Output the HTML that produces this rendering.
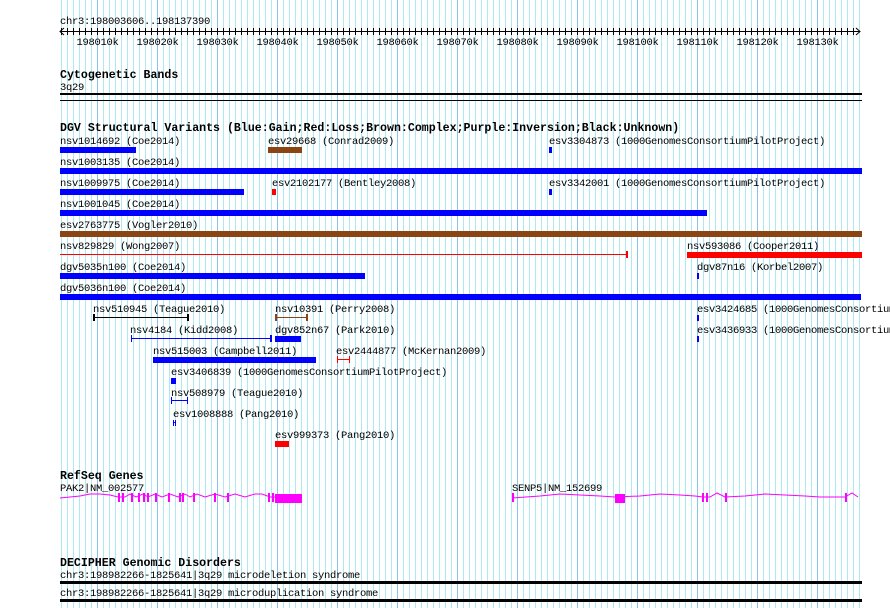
<!DOCTYPE html>
<html><head><meta charset="utf-8"><style>
html,body{margin:0;padding:0;background:#fff;width:890px;height:608px;overflow:hidden;position:relative}
.lg{position:absolute;left:61px;top:0;width:799px;height:608px;background:repeating-linear-gradient(to right,#aee8f0 0,#aee8f0 1px,transparent 1px,transparent 6px)}
.dg{position:absolute;left:97px;top:0;width:722px;height:608px;background:repeating-linear-gradient(to right,#88c4ec 0,#88c4ec 1px,transparent 1px,transparent 60px)}
svg{position:absolute;left:0;top:0}
text{font-family:"Liberation Mono",monospace;font-size:10.5px;letter-spacing:-0.3px;fill:#000}
.b{font-weight:bold;font-size:11.6px;letter-spacing:0}
</style></head><body>
<div class="lg"></div><div class="dg"></div>
<svg width="890" height="608" xmlns="http://www.w3.org/2000/svg">
<defs>
<pattern id="tk" patternUnits="userSpaceOnUse" x="61" y="28" width="6" height="7"><rect x="0" y="0" width="1" height="7" fill="#000"/></pattern>
</defs>
<rect x="60" y="31" width="800" height="1" fill="#000"/>
<rect x="61" y="28" width="798" height="7" fill="url(#tk)"/>
<g text-anchor="middle">
<text x="97.5" y="45">198010k</text><text x="157.5" y="45">198020k</text><text x="217.5" y="45">198030k</text><text x="277.5" y="45">198040k</text><text x="337.5" y="45">198050k</text><text x="397.5" y="45">198060k</text><text x="457.5" y="45">198070k</text><text x="517.5" y="45">198080k</text><text x="577.5" y="45">198090k</text><text x="637.5" y="45">198100k</text><text x="697.5" y="45">198110k</text><text x="757.5" y="45">198120k</text><text x="817.5" y="45">198130k</text>
</g>
<text x="60" y="24">chr3:198003606..198137390</text>
<polyline points="64,28 60,31.5 64,35" fill="none" stroke="#000"/>
<polyline points="856,28 860,31.5 856,35" fill="none" stroke="#000"/>
<text class="b" x="60" y="78">Cytogenetic Bands</text>
<text x="60" y="90">3q29</text>
<rect x="60" y="93" width="802" height="2"/>
<rect x="60" y="100" width="802" height="1"/>
<text class="b" x="60" y="131">DGV Structural Variants (Blue:Gain;Red:Loss;Brown:Complex;Purple:Inversion;Black:Unknown)</text>
<g fill="#0000ff">
<text x="60" y="144">nsv1014692 (Coe2014)</text><rect x="60" y="147" width="76" height="6"/>
<text x="268" y="144">esv29668 (Conrad2009)</text><rect x="268" y="147" width="34" height="6" fill="#8b4513"/>
<text x="549" y="144">esv3304873 (1000GenomesConsortiumPilotProject)</text><rect x="549" y="147" width="3" height="6"/>
<text x="60" y="165">nsv1003135 (Coe2014)</text><rect x="60" y="168" width="802" height="6"/>
<text x="60" y="186">nsv1009975 (Coe2014)</text><rect x="60" y="189" width="184" height="6"/>
<text x="272" y="186">esv2102177 (Bentley2008)</text><rect x="272" y="189" width="4" height="6" fill="#ff0000"/>
<text x="549" y="186">esv3342001 (1000GenomesConsortiumPilotProject)</text><rect x="549" y="189" width="3" height="6"/>
<text x="60" y="207">nsv1001045 (Coe2014)</text><rect x="60" y="210" width="647" height="6"/>
<text x="60" y="228">esv2763775 (Vogler2010)</text><rect x="60" y="231" width="802" height="6" fill="#8b4513"/>
<text x="60" y="249">nsv829829 (Wong2007)</text><rect x="60" y="254" width="567" height="1" fill="#ff0000"/><rect x="626" y="251" width="2" height="7" fill="#ff0000"/>
<text x="687" y="249">nsv593086 (Cooper2011)</text><rect x="687" y="252" width="175" height="6" fill="#ff0000"/>
<text x="60" y="270">dgv5035n100 (Coe2014)</text><rect x="60" y="273" width="305" height="6"/>
<text x="697" y="270">dgv87n16 (Korbel2007)</text><rect x="697" y="273" width="2" height="6"/>
<text x="60" y="291">dgv5036n100 (Coe2014)</text><rect x="60" y="294" width="801" height="6"/>
<text x="93" y="312">nsv510945 (Teague2010)</text><rect x="93" y="317" width="95" height="1" fill="#000"/><rect x="93" y="314" width="2" height="7" fill="#000"/><rect x="187" y="314" width="2" height="7" fill="#000"/>
<text x="275" y="312">nsv10391 (Perry2008)</text><rect x="275" y="317" width="32" height="1" fill="#8b4513"/><rect x="275" y="314" width="2" height="7" fill="#8b4513"/><rect x="306" y="314" width="2" height="7" fill="#8b4513"/>
<text x="697" y="312">esv3424685 (1000GenomesConsortiumPilotProject)</text><rect x="697" y="315" width="2" height="6"/>
<text x="130" y="333">nsv4184 (Kidd2008)</text><rect x="131" y="338" width="140" height="1"/><rect x="131" y="335" width="1" height="7"/><rect x="270" y="335" width="2" height="7"/>
<text x="275" y="333">dgv852n67 (Park2010)</text><rect x="275" y="336" width="26" height="6"/>
<text x="697" y="333">esv3436933 (1000GenomesConsortiumPilotProject)</text><rect x="697" y="336" width="2" height="6"/>
<text x="153" y="354">nsv515003 (Campbell2011)</text><rect x="153" y="357" width="163" height="6"/>
<text x="336" y="354">esv2444877 (McKernan2009)</text><rect x="337" y="359" width="13" height="1" fill="#ff0000"/><rect x="337" y="356" width="1" height="7" fill="#ff0000"/><rect x="349" y="356" width="1" height="7" fill="#ff0000"/>
<text x="171" y="375">esv3406839 (1000GenomesConsortiumPilotProject)</text><rect x="171" y="378" width="5" height="6"/>
<text x="171" y="396">nsv508979 (Teague2010)</text><rect x="171" y="400" width="17" height="1"/><rect x="171" y="397" width="1" height="7"/><rect x="187" y="397" width="1" height="7"/>
<text x="173" y="417">esv1008888 (Pang2010)</text><rect x="173" y="420" width="1" height="6"/><rect x="175" y="420" width="1" height="6"/><rect x="173" y="422" width="3" height="1"/>
<text x="275" y="438">esv999373 (Pang2010)</text><rect x="275" y="441" width="14" height="6" fill="#ff0000"/>
</g>
<text class="b" x="60" y="479">RefSeq Genes</text>
<text x="60" y="491">PAK2|NM_002577</text>
<g stroke="#ff00ff" fill="none" stroke-width="1">
<polyline points="60,498 80,496 90,494 100,494 110,495 118,497 125,497 130,494 136,497 143,494 148,497 155,494 162,497 170,494 178,497 185,494 190,497 197,494 205,497 215,494 225,497 235,494 245,497 255,494 262,494 270,497 275,497"/>
<polyline points="512,498 540,496 560,494 580,495 600,496 615,497 640,496 660,494 680,495 695,496 703,497 710,497 717,493 725,497 745,496 765,494 785,495 805,496 820,497 845,497 852,493 858,497"/>
</g>
<g fill="#ff00ff">
<rect x="118" y="493" width="2" height="9"/><rect x="122" y="493" width="2" height="9"/><rect x="131" y="493" width="2" height="9"/><rect x="138" y="493" width="2" height="9"/><rect x="143" y="493" width="2" height="9"/><rect x="147" y="493" width="2" height="9"/><rect x="155" y="493" width="2" height="9"/><rect x="168" y="493" width="2" height="9"/><rect x="179" y="493" width="2" height="9"/><rect x="182" y="493" width="2" height="9"/><rect x="193" y="493" width="2" height="9"/><rect x="214" y="493" width="2" height="9"/><rect x="227" y="493" width="2" height="9"/><rect x="268" y="493" width="2" height="9"/><rect x="272" y="493" width="2" height="9"/>
<rect x="275" y="494" width="27" height="9"/>
<rect x="512" y="493" width="2" height="9"/><rect x="615" y="494" width="10" height="9"/><rect x="702" y="493" width="2" height="9"/><rect x="706" y="493" width="2" height="9"/><rect x="725" y="493" width="2" height="9"/><rect x="845" y="493" width="2" height="9"/>
</g>
<text x="512" y="491">SENP5|NM_152699</text>
<text class="b" x="60" y="566">DECIPHER Genomic Disorders</text>
<text x="60" y="578">chr3:198982266-1825641|3q29 microdeletion syndrome</text>
<rect x="60" y="581" width="802" height="3"/>
<text x="60" y="596">chr3:198982266-1825641|3q29 microduplication syndrome</text>
<rect x="60" y="599" width="802" height="3"/>
</svg>
</body></html>
